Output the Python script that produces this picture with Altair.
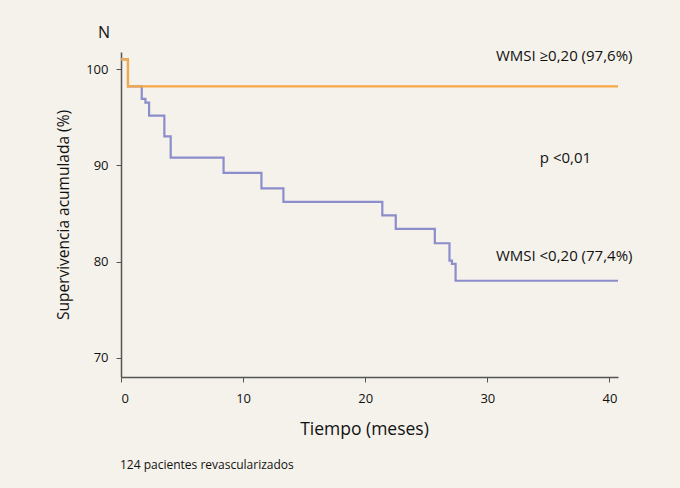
import altair as alt
import pandas as pd

# Kaplan-Meier step data (months, cumulative survival %)
t_high = [0, 0.57, 40.7]
s_high = [101.0, 98.2, 98.2]

t_low = [0, 0.57, 1.7, 2.0, 2.3, 3.55, 4.07, 8.4, 11.5, 13.3, 21.4, 22.5, 25.7, 26.9, 27.1, 27.4, 40.7]
s_low = [101.0, 98.2, 96.9, 96.5, 95.15, 93.0, 90.8, 89.2, 87.6, 86.2, 84.8, 83.4, 81.9, 80.1, 79.75, 78.0, 78.0]

x_ticks = [0, 10, 20, 30, 40]
y_ticks = [70, 80, 90, 100]

ann_text = ["WMSI \u22650,20 (97,6%)", "p <0,01", "WMSI <0,20 (77,4%)"]
ann_t = [30.7, 34.3, 30.7]
ann_s = [101.4, 90.75, 80.6]

BG = "#f5f2eb"
FONT = "Open Sans"

df = pd.concat([
    pd.DataFrame({"t": t_low, "s": s_low, "g": "low", "o": 0}),
    pd.DataFrame({"t": t_high, "s": s_high, "g": "high", "o": 1}),
])
ann = pd.DataFrame({"text": ann_text, "t": ann_t, "s": ann_s})

xscale = alt.Scale(domain=[0, 40.7], nice=False, zero=False)
yscale = alt.Scale(domain=[68, 101.77], nice=False, zero=False)

lines = alt.Chart(df).mark_line(interpolate="step-after", strokeWidth=2.2).encode(
    x=alt.X("t:Q", scale=xscale,
            axis=alt.Axis(values=x_ticks, title="Tiempo (meses)", titleFontSize=17.5,
                          titleFontWeight="normal", titlePadding=15, titleX=243,
                          labelFontSize=13,
                          labelPadding=10, tickSize=5, grid=False, domainColor="#555",
                          tickColor="#555", labelColor="#111", titleColor="#111",
                          labelFont=FONT, titleFont=FONT, domainWidth=1.5)),
    y=alt.Y("s:Q", scale=yscale,
            axis=alt.Axis(values=y_ticks, title="Supervivencia acumulada (%)", titleFontSize=15.5,
                          titleFontWeight="normal", titlePadding=14, labelFontSize=13,
                          labelPadding=8, tickSize=5, grid=False, domainColor="#555",
                          tickColor="#555", labelColor="#111", titleColor="#111",
                          labelFont=FONT, titleFont=FONT, domainWidth=1.5)),
    color=alt.Color("g:N", scale=alt.Scale(domain=["low", "high"], range=["#8c8dcc", "#f5a846"]), legend=None),
    detail="g:N",
    order="o:Q",
)

labels = alt.Chart(ann).mark_text(align="left", baseline="middle", fontSize=15, font=FONT, color="#111").encode(
    x=alt.X("t:Q", scale=xscale),
    y=alt.Y("s:Q", scale=yscale),
    text="text:N",
)

n_label = alt.Chart(pd.DataFrame({"text": ["N"]})).mark_text(
    align="center", baseline="middle", fontSize=16, font=FONT, color="#111"
).encode(x=alt.value(-17), y=alt.value(-19), text="text:N")

foot = alt.Chart(pd.DataFrame({"text": ["124 pacientes revascularizados"]})).mark_text(
    align="left", baseline="middle", fontSize=12, font=FONT, color="#111"
).encode(x=alt.value(-1), y=alt.value(413), text="text:N")

chart = alt.layer(lines, labels, n_label, foot).properties(
    width=497, height=325,
    autosize=alt.AutoSizeParams(type="none"),
    padding={"left": 121, "top": 52, "right": 62, "bottom": 111},
    background=BG,
).configure_view(stroke=None)

chart.save("out.html", embed_options={"renderer": "svg", "actions": False})
